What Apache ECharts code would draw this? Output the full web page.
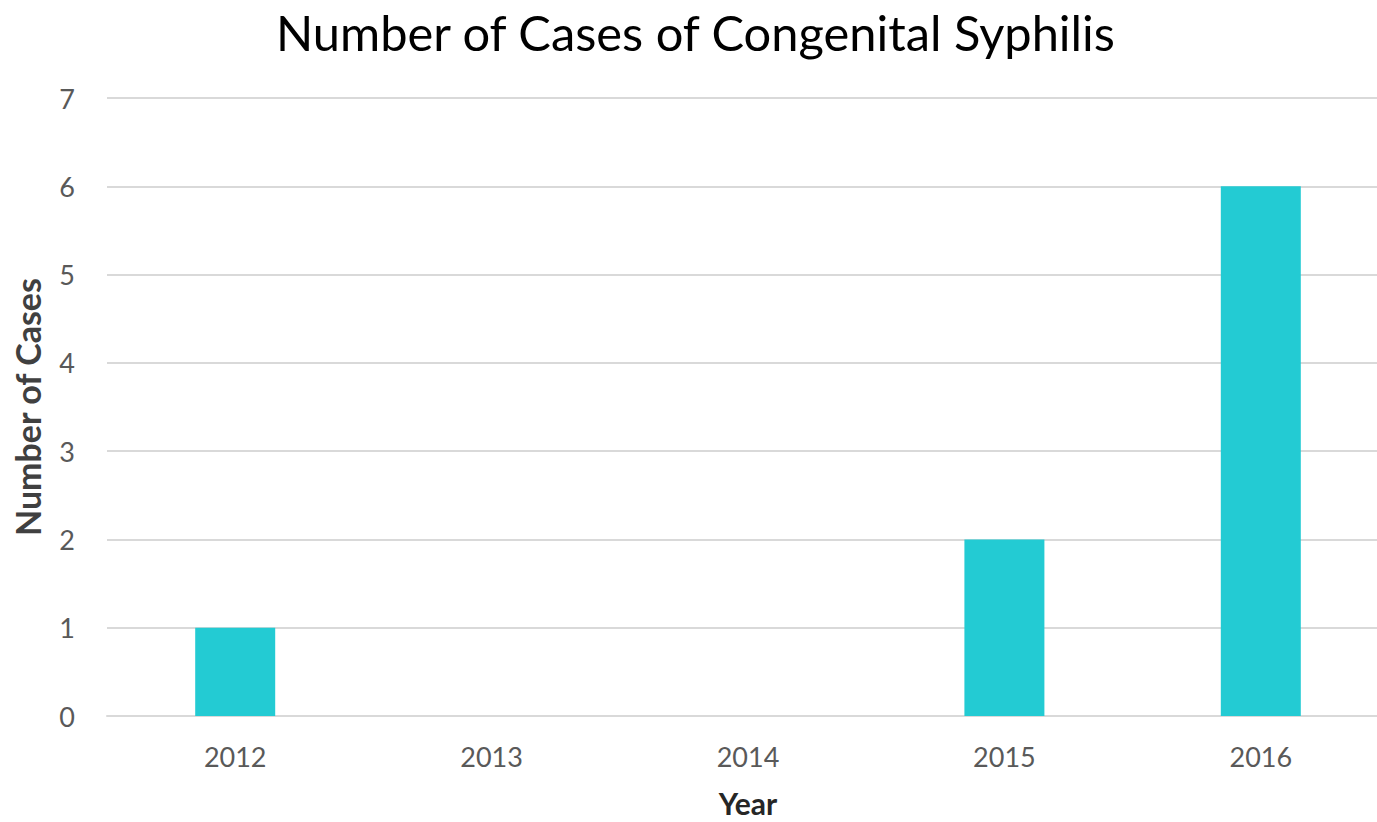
<!DOCTYPE html>
<html>
<head>
<meta charset="utf-8">
<script src="https://cdn.jsdelivr.net/npm/echarts@6/dist/echarts.min.js"></script>
<style>
  html, body { margin: 0; padding: 0; background: #fff; }
  #chart { width: 1377px; height: 822px; }
</style>
</head>
<body>
<div id="chart"></div>
<script>
var years = ['2012', '2013', '2014', '2015', '2016'];
var cases = [1, 0, 0, 2, 6];
var yTicks = [0, 7, 1];

(function() {
    var font = 'Lato, "Open Sans", sans-serif';
    var muted = '#595959';
    var rule = '#d9d9d9';
    var chart = echarts.init(document.getElementById('chart'), null, { renderer: 'svg' });
    chart.setOption({
        animation: false,
        title: {
            text: 'Number of Cases of Congenital Syphilis',
            left: 271, top: 2,
            textStyle: { fontFamily: font, fontSize: 48.8, fontWeight: 'normal', color: '#000' }
        },
        grid: { left: 107, right: -12, top: 98, bottom: 106, outerBoundsMode: 'none', containLabel: false },
        xAxis: {
            type: 'category', data: years,
            name: 'Year', nameLocation: 'middle', nameGap: 72,
            nameTextStyle: { fontFamily: font, fontSize: 30, lineHeight: 30, fontWeight: 'bold', color: '#262626' },
            axisLine: { lineStyle: { color: rule, width: 2 } },
            axisTick: { show: false },
            axisLabel: { fontFamily: font, fontSize: 27, color: muted, margin: 27 }
        },
        yAxis: {
            type: 'value', min: yTicks[0], max: yTicks[1], interval: yTicks[2],
            name: 'Number of Cases', nameLocation: 'middle', nameGap: 63, nameRotate: 90,
            nameTextStyle: { fontFamily: font, fontSize: 34, fontWeight: 'bold', color: '#404040' },
            axisLine: { show: false },
            axisTick: { show: false },
            axisLabel: { fontFamily: font, fontSize: 27, color: muted, margin: 32 },
            splitLine: { lineStyle: { color: rule, width: 2 } }
        },
        series: [{
            type: 'bar', data: cases,
            barWidth: '31.2%',
            itemStyle: { color: '#23CBD3' }
        }]
    });
    window.addEventListener('resize', function() { chart.resize(); });
})();
</script>
</body>
</html>
